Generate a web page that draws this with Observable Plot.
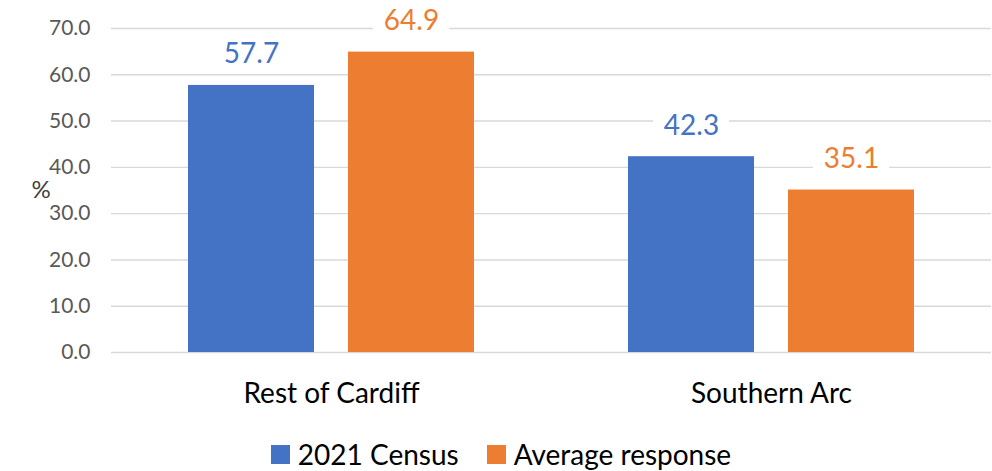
<!DOCTYPE html>
<html>
<head>
<meta charset="utf-8">
<script src="https://cdn.jsdelivr.net/npm/d3@7"></script>
<script src="https://cdn.jsdelivr.net/npm/@observablehq/plot@0.6"></script>
<style>
  html, body { margin: 0; padding: 0; background: #fff; }
  body { width: 992px; height: 471px; overflow: hidden; font-family: Lato, "Open Sans", sans-serif; }
  #legend { display: flex; justify-content: center; align-items: center; height: 51px; box-sizing: border-box; padding-top: 17px; padding-left: 10px; font-size: 28px; color: #000; }
  .item { display: flex; align-items: center; margin: 0 14px; }
  .sw { width: 19px; height: 19px; margin-right: 8px; }
</style>
</head>
<body>
<div id="chart"></div>
<div id="legend"></div>
<script>
const categories = ["Rest of Cardiff", "Southern Arc"];
const seriesNames = ["2021 Census", "Average response"];
const census = [57.7, 42.3];
const average = [64.9, 35.1];
const yTicks = [0, 10, 20, 30, 40, 50, 60, 70];
const colors = ["#4472C4", "#ED7D31"];

const seriesValues = [census, average];
const data = [];
categories.forEach((c, i) => {
  seriesNames.forEach((s, j) => data.push({category: c, series: s, value: seriesValues[j][i]}));
});

const font = "Lato, 'Open Sans', sans-serif";

const chart = Plot.plot({
  width: 992,
  height: 420,
  marginLeft: 111,
  marginRight: 1,
  marginTop: 28,
  marginBottom: 68,
  style: {fontFamily: font, background: "#fff"},
  fx: {domain: categories, padding: 0, label: null, axis: "bottom", tickSize: 0, tickPadding: 31},
  x: {domain: seriesNames, axis: null, paddingInner: 0.211, paddingOuter: 0.472},
  y: {domain: [0, 70], ticks: yTicks, tickFormat: d => d.toFixed(1), tickSize: 0, tickPadding: 21, label: null},
  color: {domain: seriesNames, range: colors},
  marks: [
    Plot.ruleY(yTicks, {stroke: "#d9d9d9", strokeWidth: 1.4}),
    Plot.barY(data, {fx: "category", x: "series", y: "value", fill: "series"}),
    Plot.barY(data, {fx: "category", x: "series", y1: d => d.value + 2.8, y2: d => d.value + 10.6, fill: "white", insetLeft: 25, insetRight: 25}),
    Plot.text(data, {fx: "category", x: "series", y: "value", text: d => d.value.toFixed(1), fill: "series", dy: -31, fontSize: 28}),
    Plot.text([{category: categories[0], t: "%"}], {fx: "category", text: "t", frameAnchor: "left", dx: -80, fontSize: 24, fill: "#404040"})
  ]
});
chart.querySelectorAll("g[aria-label='y-axis tick label']").forEach(e => { e.setAttribute("fill", "#595959"); e.setAttribute("font-size", "21"); });
chart.querySelectorAll("g[aria-label='fx-axis tick label']").forEach(e => { e.setAttribute("fill", "#000"); e.setAttribute("font-size", "28"); });
document.getElementById("chart").appendChild(chart);

const legend = document.getElementById("legend");
seriesNames.forEach((s, i) => {
  const item = document.createElement("div");
  item.className = "item";
  const sw = document.createElement("div");
  sw.className = "sw";
  sw.style.background = colors[i];
  const t = document.createElement("span");
  t.textContent = s;
  item.appendChild(sw);
  item.appendChild(t);
  legend.appendChild(item);
});
</script>
</body>
</html>
